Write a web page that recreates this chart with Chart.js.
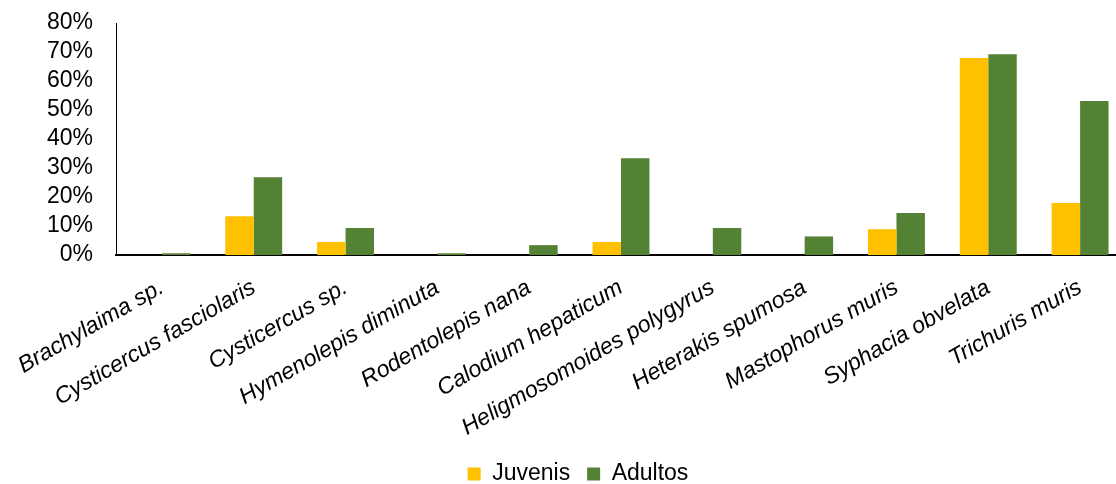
<!DOCTYPE html>
<html>
<head>
<meta charset="utf-8">
<script src="https://cdn.jsdelivr.net/npm/chart.js@4/dist/chart.umd.min.js"></script>
<style>
  html, body { margin: 0; padding: 0; background: #fff; overflow: hidden; }
  #wrap { width: 1156px; height: 484px; }
</style>
</head>
<body>
<div id="wrap"><canvas id="c" width="1156" height="484"></canvas></div>
<script>
// Parasite species (x categories)
const species = [
  'Brachylaima sp.', 'Cysticercus fasciolaris', 'Cysticercus sp.', 'Hymenolepis diminuta',
  'Rodentolepis nana', 'Calodium hepaticum', 'Heligmosomoides polygyrus', 'Heterakis spumosa',
  'Mastophorus muris', 'Syphacia obvelata', 'Trichuris muris'
];
// Prevalence (%) by age class
const juvenis = [0, 13.4, 4.5, 0, 0, 4.5, 0, 0, 8.9, 67.9, 17.9];
const adultos = [0.6, 26.8, 9.3, 0.6, 3.4, 33.4, 9.3, 6.4, 14.5, 69.2, 53.1];
// Y axis ticks (%)
const yTicks = [0, 10, 20, 30, 40, 50, 60, 70, 80];

const FONT = 'Liberation Sans, Arial, sans-serif';

new Chart(document.getElementById('c'), {
  type: 'bar',
  data: {
    labels: species,
    datasets: [
      { label: 'Juvenis', data: juvenis, backgroundColor: '#FFC000', borderWidth: 0 },
      { label: 'Adultos', data: adultos, backgroundColor: '#548235', borderWidth: 0 }
    ]
  },
  options: {
    responsive: false,
    animation: false,
    layout: { padding: { top: 23, right: 0, left: 0, bottom: -11.5 } },
    datasets: { bar: { categoryPercentage: 0.62, barPercentage: 1 } },
    plugins: {
      tooltip: { enabled: false },
      legend: {
        position: 'bottom',
        labels: {
          font: { family: FONT, size: 23 },
          color: '#000',
          boxWidth: 13,
          boxHeight: 13,
          padding: 17
        }
      }
    },
    scales: {
      x: {
        grid: { display: false, drawTicks: false },
        border: { display: true, color: '#000', width: 2 },
        ticks: {
          autoSkip: false,
          minRotation: 30,
          maxRotation: 30,
          padding: 19,
          color: '#000',
          font: { family: FONT, size: 23, style: 'italic' }
        },
        // fixed axis band; right margin of the plot area
        afterFit: (s) => { s.height = 190.5; s.paddingLeft = 0; s.paddingRight = 30; }
      },
      y: {
        min: yTicks[0],
        max: yTicks[yTicks.length - 1],
        afterBuildTicks: (s) => { s.ticks = yTicks.map(v => ({ value: v })); },
        grid: { display: false, drawTicks: false },
        border: { display: true, color: '#000', width: 1 },
        ticks: {
          autoSkip: false,
          padding: 23,
          color: '#000',
          font: { family: FONT, size: 23 },
          callback: (v) => v + '%'
        },
        afterFit: (s) => { s.width = 116; s.paddingTop = 0; s.paddingBottom = 0; }
      }
    }
  }
});
</script>
</body>
</html>
